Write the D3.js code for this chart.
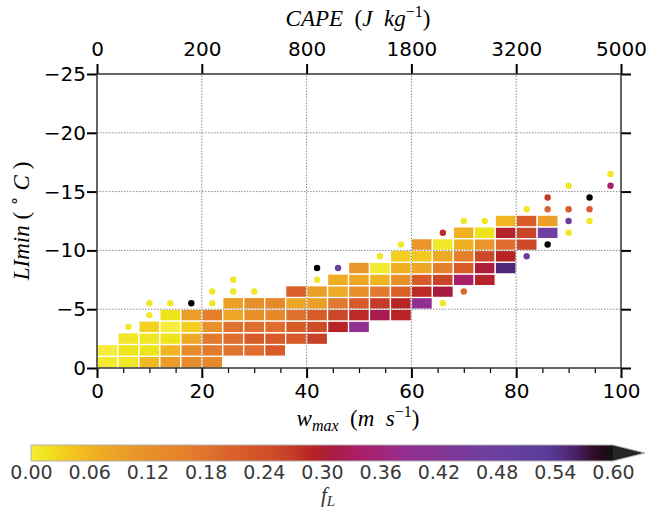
<!DOCTYPE html>
<html>
<head>
<meta charset="utf-8">
<script src="https://cdn.jsdelivr.net/npm/d3@7"></script>
<style>
  body { margin: 0; background: #fff; }
  svg { display: block; }
  .tick text { font-family: "DejaVu Sans", sans-serif; }
  .math { font-family: "Liberation Serif", serif; font-style: italic; }
</style>
</head>
<body>
<div id="chart"></div>
<script>
// ---------------------------------------------------------------------------
// DATA
// ---------------------------------------------------------------------------
const wTicks = [0, 20, 40, 60, 80, 100];
const wMinorTicks = [5, 10, 15, 25, 30, 35, 45, 50, 55, 65, 70, 75, 85, 90, 95];
const capeTicks = [0, 200, 800, 1800, 3200, 5000];
const liTicks = [0, -5, -10, -15, -20, -25];
const fLTicks = [0, 0.06, 0.12, 0.18, 0.24, 0.30, 0.36, 0.42, 0.48, 0.54, 0.60];

const binW = 4;   // m s-1 per column
const binLI = 1;  // degC per row

// first LI bin (0 = 0..-1 degC) of each w column
const colFirstRow = [0, 0, 0, 0, 0, 0, 1, 1, 1, 2, 2, 3, 3, 4, 4, 5, 6, 7, 7, 8, 10, 11];
// fL of each filled bin, per w column, from the lowest LI bin upward
const cellFL = [
  [0.005, 0.0],
  [0.01, 0.015, 0.01],
  [0.055, 0.015, 0.01, 0.03],
  [0.10, 0.06, 0.015, 0.0, 0.015],
  [0.13, 0.13, 0.075, 0.035, 0.095],
  [0.14, 0.17, 0.17, 0.12, 0.16],
  [0.18, 0.19, 0.185, 0.08, 0.09],
  [0.19, 0.215, 0.19, 0.12, 0.12],
  [0.22, 0.22, 0.19, 0.14, 0.14],
  [0.22, 0.215, 0.185, 0.08, 0.21],
  [0.265, 0.25, 0.215, 0.09, 0.09],
  [0.29, 0.255, 0.17, 0.075, 0.07],
  [0.39, 0.285, 0.22, 0.12, 0.08, 0.11],
  [0.32, 0.27, 0.17, 0.06, 0.005],
  [0.29, 0.29, 0.21, 0.12, 0.065, 0.035],
  [0.39, 0.285, 0.22, 0.08, 0.04, 0.11],
  [0.31, 0.26, 0.16, 0.075, 0.01],
  [0.34, 0.215, 0.16, 0.065, 0.065],
  [0.295, 0.305, 0.255, 0.11, 0.015],
  [0.555, 0.29, 0.19, 0.295, 0.06],
  [0.255, 0.26, 0.215],
  [0.47, 0.09]
];

// sparse bins drawn as dots (bin centres)
const dotW = [6, 10, 10, 14, 18, 22, 22, 26, 26, 30, 42, 42, 46, 54, 58, 66, 66, 70, 70, 74,
  82, 82, 86, 86, 86, 90, 90, 90, 90, 94, 94, 94, 98, 98];
const dotLI = [-3.5, -4.5, -5.5, -5.5, -5.5, -5.5, -6.5, -6.5, -7.5, -6.5, -7.5, -8.5, -8.5, -9.5, -10.5, -5.5, -11.5, -6.5, -12.5, -12.5,
  -9.5, -13.5, -10.5, -13.5, -14.5, -11.5, -12.5, -13.5, -15.5, -12.5, -13.5, -14.5, -15.5, -16.5];
const dotFL = [0.01, 0.01, 0.01, 0.01, 0.65, 0.01, 0.01, 0.01, 0.01, 0.01, 0.01, 0.65, 0.47, 0.01, 0.01, 0.01, 0.285, 0.20, 0.01, 0.01,
  0.47, 0.01, 0.65, 0.20, 0.27, 0.01, 0.47, 0.22, 0.01, 0.01, 0.22, 0.65, 0.34, 0.01];

// colour map stops (fL -> colour)
const cmapStops = [0, 0.015, 0.035, 0.065, 0.09, 0.12, 0.15, 0.18, 0.215, 0.255, 0.27, 0.29, 0.31, 0.325, 0.345, 0.39, 0.47, 0.53, 0.555, 0.585, 0.60];
const cmapColors = ['#f6ec3c', '#eee41c', '#f5cd20', '#efb022', '#eca028', '#e8902a', '#e6842a', '#e07430', '#d85c28', '#cc4828', '#c43c28',
  '#b82424', '#a81c40', '#aa1c56', '#a8206e', '#923090', '#7040a0', '#5a3c9c', '#502878', '#2a0818', '#111111'];

// ---------------------------------------------------------------------------
// DRAW
// ---------------------------------------------------------------------------
const width = 651;
const height = 508;

const svg = d3.select('#chart').append('svg')
  .attr('width', width)
  .attr('height', height);

const x = d3.scaleLinear().domain([0, 100]).range([97, 621]);
const xCape = d3.scaleSqrt().domain([0, 5000]).range([97, 621]);
const y = d3.scaleLinear().domain([0, -25]).range([368, 74]);
const color = d3.scaleLinear().domain(cmapStops).range(cmapColors).clamp(true);

// CELLS
const cells = [];
cellFL.forEach((col, i) => {
  col.forEach((v, k) => {
    const row = colFirstRow[i] + k;
    cells.push({ w0: i * binW, li0: -row * binLI, fl: v });
  });
});

svg.append('g').selectAll('rect')
  .data(cells).enter()
  .append('rect')
  .attr('x', d => x(d.w0))
  .attr('y', d => y(d.li0 - binLI))
  .attr('width', d => x(d.w0 + binW) - x(d.w0))
  .attr('height', d => y(d.li0) - y(d.li0 - binLI))
  .attr('fill', d => color(d.fl))
  .attr('stroke', '#fff')
  .attr('stroke-width', 1.3);

// GRID
const grid = svg.append('g')
  .attr('stroke', '#8a8a8a')
  .attr('stroke-width', 1)
  .attr('stroke-dasharray', '1.5,1.5');
grid.selectAll('line.v')
  .data(wTicks.slice(1, -1)).enter()
  .append('line')
  .attr('x1', d => x(d)).attr('x2', d => x(d))
  .attr('y1', y(0)).attr('y2', y(-25));
grid.selectAll('line.h')
  .data(liTicks.slice(1, -1)).enter()
  .append('line')
  .attr('x1', x(0)).attr('x2', x(100))
  .attr('y1', d => y(d)).attr('y2', d => y(d));

// DOTS
svg.append('g').selectAll('circle')
  .data(dotW.map((w, i) => ({ w, li: dotLI[i], fl: dotFL[i] }))).enter()
  .append('circle')
  .attr('cx', d => x(d.w))
  .attr('cy', d => y(d.li))
  .attr('r', 3.2)
  .attr('fill', d => d.fl > 0.6 ? '#000' : color(d.fl));

// AXES
function styleAxis(g, size) {
  g.attr('font-size', size);
  g.select('.domain').remove();
  g.selectAll('.tick line').attr('stroke', '#000').attr('stroke-width', 2);
  g.selectAll('.tick text').attr('fill', '#000');
}

svg.append('g')
  .attr('transform', `translate(0,${y(0)})`)
  .call(d3.axisBottom(x).tickValues(wMinorTicks).tickSize(5).tickFormat(''))
  .call(g => styleAxis(g, 20))
  .selectAll('.tick line').attr('stroke-width', 1.2);
svg.append('g')
  .attr('transform', `translate(0,${y(0)})`)
  .call(d3.axisBottom(x).tickValues(wTicks).tickSize(10).tickPadding(6))
  .call(g => styleAxis(g, 20));
svg.append('g')
  .attr('transform', `translate(0,${y(-25)})`)
  .call(d3.axisTop(xCape).tickValues(capeTicks).tickSize(10).tickPadding(8).tickFormat(d3.format('d')))
  .call(g => styleAxis(g, 20));
svg.append('g')
  .attr('transform', `translate(${x(0)},0)`)
  .call(d3.axisLeft(y).tickValues(liTicks).tickSize(10).tickPadding(1))
  .call(g => styleAxis(g, 20));
svg.append('g')
  .attr('transform', `translate(${x(100)},0)`)
  .call(d3.axisRight(y).tickValues(liTicks).tickSize(10).tickFormat(''))
  .call(g => styleAxis(g, 20));

// SPINES
svg.append('rect')
  .attr('x', x(0)).attr('y', y(-25))
  .attr('width', x(100) - x(0)).attr('height', y(0) - y(-25))
  .attr('fill', 'none')
  .attr('stroke', '#333')
  .attr('stroke-width', 1.5);

// AXIS TITLES
const xTitle = svg.append('text').attr('class', 'math')
  .attr('x', 358).attr('y', 426).attr('text-anchor', 'middle').attr('font-size', 23);
xTitle.append('tspan').text('w');
xTitle.append('tspan').attr('font-size', 16).attr('dy', 5).text('max');
xTitle.append('tspan').attr('dy', -5).attr('font-style', 'normal').text('\u2002(');
xTitle.append('tspan').text('m\u2002s');
xTitle.append('tspan').attr('font-size', 16).attr('dy', -9).attr('font-style', 'normal').text('−1');
xTitle.append('tspan').attr('dy', 9).attr('font-style', 'normal').text(')');

const topTitle = svg.append('text').attr('class', 'math')
  .attr('x', 358).attr('y', 26).attr('text-anchor', 'middle').attr('font-size', 23);
topTitle.append('tspan').text('CAPE');
topTitle.append('tspan').attr('font-style', 'normal').text('\u2002(');
topTitle.append('tspan').text('J\u2002kg');
topTitle.append('tspan').attr('font-size', 16).attr('dy', -9).attr('font-style', 'normal').text('−1');
topTitle.append('tspan').attr('dy', 9).attr('font-style', 'normal').text(')');

const yTitle = svg.append('text').attr('class', 'math')
  .attr('transform', `translate(29,${(y(0) + y(-25)) / 2}) rotate(-90)`)
  .attr('text-anchor', 'middle').attr('font-size', 23);
yTitle.append('tspan').text('LImin');
yTitle.append('tspan').attr('font-style', 'normal').text(' ( ');
yTitle.append('tspan').attr('font-size', 16).attr('dy', -9).attr('font-style', 'normal').text('∘');
yTitle.append('tspan').attr('dy', 9).text(' C');
yTitle.append('tspan').attr('font-style', 'normal').text(' )');

// COLORBAR
const cb = { x0: 31, x1: 613, y0: 445, h: 16, tip: 645 };
const cbX = d3.scaleLinear().domain([0, 0.6]).range([cb.x0, cb.x1]);

const grad = svg.append('defs').append('linearGradient')
  .attr('id', 'cbGrad')
  .attr('x1', '0%').attr('x2', '100%').attr('y1', '0%').attr('y2', '0%');
grad.selectAll('stop')
  .data(d3.range(0, 61).map(i => i / 100)).enter()
  .append('stop')
  .attr('offset', d => `${(d / 0.6) * 100}%`)
  .attr('stop-color', d => color(d));

svg.append('rect')
  .attr('x', cbX(0)).attr('y', cb.y0)
  .attr('width', cbX(0.6) - cbX(0)).attr('height', cb.h)
  .attr('fill', 'url(#cbGrad)');
svg.append('path')
  .attr('d', `M${cbX(0.6)},${cb.y0}L${cb.tip},${cb.y0 + cb.h / 2}L${cbX(0.6)},${cb.y0 + cb.h}Z`)
  .attr('fill', '#262626');
svg.append('path')
  .attr('d', `M${cbX(0.6)},${cb.y0}H${cbX(0)}V${cb.y0 + cb.h}H${cbX(0.6)}L${cb.tip},${cb.y0 + cb.h / 2}Z`)
  .attr('fill', 'none')
  .attr('stroke', '#b0b0b0')
  .attr('stroke-width', 1);

svg.append('g')
  .attr('transform', `translate(0,${cb.y0 + cb.h})`)
  .call(d3.axisBottom(cbX).tickValues(fLTicks).tickSize(0).tickPadding(4).tickFormat(d3.format('.2f')))
  .call(g => styleAxis(g, 19))
  .selectAll('.tick text').attr('fill', '#3a3a3a');

const cbTitle = svg.append('text').attr('class', 'math')
  .attr('x', 328).attr('y', 502).attr('text-anchor', 'middle').attr('font-size', 21).attr('fill', '#333');
cbTitle.append('tspan').text('f');
cbTitle.append('tspan').attr('font-size', 15).attr('dy', 4).text('L');
</script>
</body>
</html>
